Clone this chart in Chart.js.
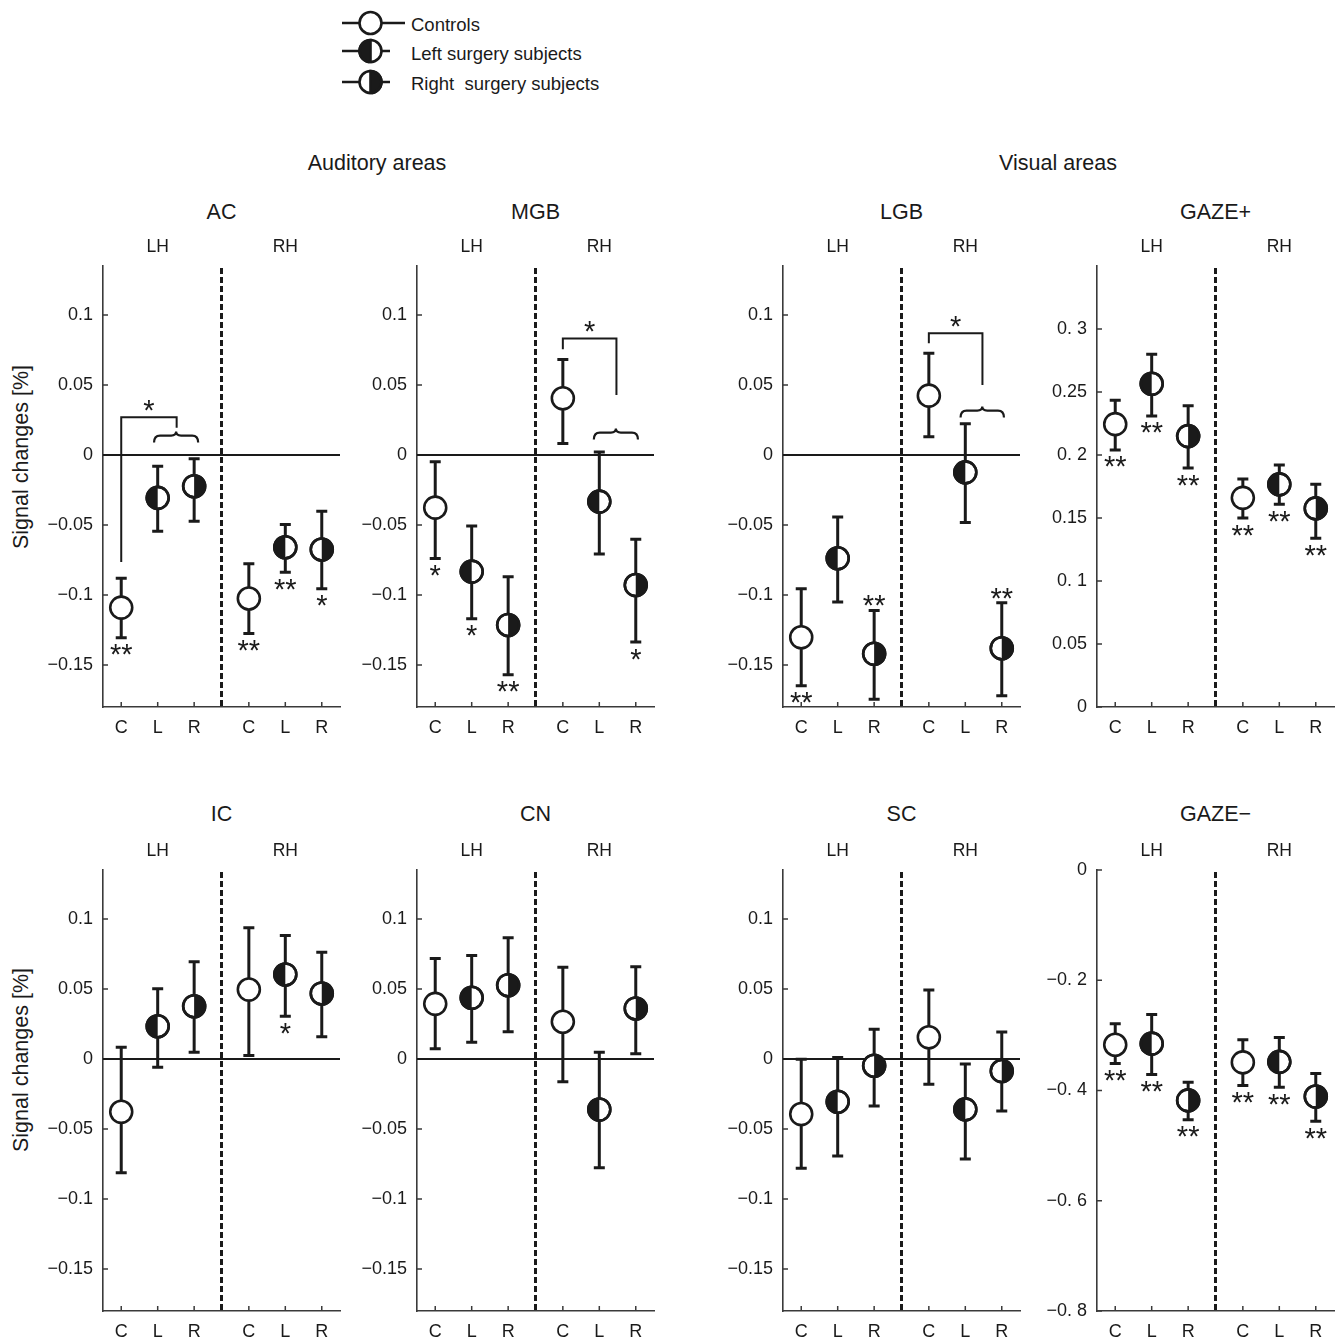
<!DOCTYPE html>
<html>
<head>
<meta charset="utf-8">
<script src="https://cdn.jsdelivr.net/npm/chart.js@4.4.1/dist/chart.umd.min.js"></script>
<style>
html, body { margin: 0; padding: 0; background: #fff; }
body { width: 1338px; height: 1339px; position: relative; overflow: hidden; font-family: "Liberation Sans", Arial, sans-serif; color: #1a1a1a; }
canvas { position: absolute; }
.t { position: absolute; transform: translate(-50%, -50%); white-space: nowrap; line-height: 1; }
.lg { position: absolute; transform: translateY(-50%); white-space: nowrap; line-height: 1; font-size: 18.5px; }
.yt { position: absolute; transform: translate(-50%, -50%) rotate(-90deg); white-space: nowrap; line-height: 1; font-size: 21.5px; }
</style>
</head>
<body>
<svg style="position:absolute;left:330px;top:0" width="80" height="100">
  <g stroke="#1a1a1a" stroke-width="2.6" fill="#fff">
    <line x1="12" y1="23" x2="75" y2="23"/>
    <circle cx="40.5" cy="23" r="11"/>
    <line x1="12" y1="51" x2="60" y2="51"/>
    <circle cx="40.5" cy="51" r="11"/>
    <path d="M40.5 40 A11 11 0 0 0 40.5 62 Z" fill="#1a1a1a"/>
    <line x1="12" y1="82" x2="60" y2="82"/>
    <circle cx="40.5" cy="82" r="11"/>
    <path d="M40.5 71 A11 11 0 0 1 40.5 93 Z" fill="#1a1a1a"/>
  </g>
</svg>
<div class="lg" style="left:411px;top:25px">Controls</div>
<div class="lg" style="left:411px;top:54px">Left surgery subjects</div>
<div class="lg" style="left:411px;top:84px">Right&nbsp; surgery subjects</div>
<div class="t" style="left:377px;top:164px;font-size:21.5px">Auditory areas</div>
<div class="t" style="left:1058px;top:164px;font-size:21.5px">Visual areas</div>
<div class="yt" style="left:22px;top:457px">Signal changes [%]</div>
<div class="yt" style="left:22px;top:1060px">Signal changes [%]</div>
<script>
const groups = ["C", "L", "R", "C", "L", "R"];
const kinds = ["ctrl", "left", "right", "ctrl", "left", "right"];
const xPos = [1, 2, 3, 4.5, 5.5, 6.5];
const divider = 3.75;

const sigRange = [-0.18, 0.135];
const sigTicks = [-0.15, -0.1, -0.05, 0, 0.05, 0.1];
const sigLabels = ["−0.15", "−0.1", "−0.05", "0", "0.05", "0.1"];
const gazePRange = [0, 0.35];
const gazePTicks = [0, 0.05, 0.1, 0.15, 0.2, 0.25, 0.3];
const gazePLabels = ["0", "0.05", "0. 1", "0.15", "0. 2", "0.25", "0. 3"];
const gazeNRange = [-0.8, 0];
const gazeNTicks = [-0.8, -0.6, -0.4, -0.2, 0];
const gazeNLabels = ["−0. 8", "−0. 6", "−0. 4", "−0. 2", "0"];

// AC
const acMean = [-0.109, -0.0306, -0.0223, -0.1025, -0.0659, -0.0675];
const acLow = [-0.1306, -0.0544, -0.0473, -0.1275, -0.0837, -0.0956];
const acHigh = [-0.088, -0.008, -0.0027, -0.0777, -0.0496, -0.0401];
const acStars = ["**", "", "", "**", "**", "*"];
const acBracket = [1, -0.0765, 0.027, 2.52, 0.0195];
const acBrace = [1.9, 3.11, 0.0139];
// MGB
const mgbMean = [-0.0376, -0.0833, -0.1214, 0.0405, -0.0333, -0.0929];
const mgbLow = [-0.074, -0.117, -0.157, 0.0083, -0.0707, -0.1336];
const mgbHigh = [-0.0048, -0.0507, -0.0869, 0.0683, 0.0021, -0.0602];
const mgbStars = ["*", "*", "**", "", "", "*"];
const mgbBracket = [4.5, 0.0755, 0.0833, 5.97, 0.0429];
const mgbBrace = [5.35, 6.56, 0.016];
// LGB
const lgbMean = [-0.1302, -0.0738, -0.142, 0.0424, -0.0124, -0.138];
const lgbLow = [-0.1648, -0.105, -0.1745, 0.0131, -0.0483, -0.172];
const lgbHigh = [-0.0955, -0.0443, -0.111, 0.0726, 0.0224, -0.1055];
const lgbStars = ["**", "", "**", "", "", "**"];
const lgbStarSide = ["below", "below", "above", "below", "below", "above"];
const lgbBracket = [4.5, 0.0798, 0.0869, 5.97, 0.05];
const lgbBrace = [5.37, 6.56, 0.0317];
// GAZE+
const gzpMean = [0.2245, 0.2565, 0.215, 0.166, 0.1767, 0.1576];
const gzpLow = [0.204, 0.231, 0.1896, 0.150, 0.161, 0.134];
const gzpHigh = [0.2435, 0.280, 0.239, 0.181, 0.192, 0.1767];
const gzpStars = ["**", "**", "**", "**", "**", "**"];
// IC
const icMean = [-0.0377, 0.0234, 0.0377, 0.0496, 0.0604, 0.0468];
const icLow = [-0.0813, -0.0059, 0.0049, 0.0025, 0.0306, 0.0159];
const icHigh = [0.0084, 0.0501, 0.0694, 0.0937, 0.0882, 0.0763];
const icStars = ["", "", "", "", "*", ""];
// CN
const cnMean = [0.0394, 0.0437, 0.0527, 0.0266, -0.0361, 0.0361];
const cnLow = [0.0073, 0.012, 0.0194, -0.0163, -0.0777, 0.0037];
const cnHigh = [0.0718, 0.0739, 0.0866, 0.0656, 0.0049, 0.0659];
// SC
const scMean = [-0.0393, -0.0305, -0.0048, 0.0155, -0.036, -0.0086];
const scLow = [-0.078, -0.0693, -0.0336, -0.018, -0.0714, -0.0371];
const scHigh = [-0.0002, 0.001, 0.0212, 0.0493, -0.0036, 0.0193];
// GAZE-
const gznMean = [-0.317, -0.315, -0.418, -0.349, -0.348, -0.411];
const gznLow = [-0.351, -0.371, -0.453, -0.391, -0.394, -0.456];
const gznHigh = [-0.279, -0.262, -0.385, -0.308, -0.304, -0.369];
const gznStars = ["**", "**", "**", "**", "**", "**"];

const ink = "#1a1a1a";
const axisInk = "#3a3a3a";
const plotW = 237, plotH = 441;
const padL = 100, padT = 24, padR = 20, padB = 40;
const markR = 11;
const starFont = "29px 'Liberation Sans', Arial, sans-serif";

const sig = { range: sigRange, ticks: sigTicks, labels: sigLabels };
const panels = [
  { title: "AC", x: 103, y: 266, mean: acMean, low: acLow, high: acHigh, stars: acStars, bracket: acBracket, brace: acBrace, ...sig },
  { title: "MGB", x: 417, y: 266, mean: mgbMean, low: mgbLow, high: mgbHigh, stars: mgbStars, bracket: mgbBracket, brace: mgbBrace, ...sig },
  { title: "LGB", x: 783, y: 266, mean: lgbMean, low: lgbLow, high: lgbHigh, stars: lgbStars, side: lgbStarSide, bracket: lgbBracket, brace: lgbBrace, ...sig },
  { title: "GAZE+", x: 1097, y: 266, mean: gzpMean, low: gzpLow, high: gzpHigh, stars: gzpStars, range: gazePRange, ticks: gazePTicks, labels: gazePLabels },
  { title: "IC", x: 103, y: 870, mean: icMean, low: icLow, high: icHigh, stars: icStars, ...sig },
  { title: "CN", x: 417, y: 870, mean: cnMean, low: cnLow, high: cnHigh, ...sig },
  { title: "SC", x: 783, y: 870, mean: scMean, low: scLow, high: scHigh, ...sig },
  { title: "GAZE−", x: 1097, y: 870, mean: gznMean, low: gznLow, high: gznHigh, stars: gznStars, range: gazeNRange, ticks: gazeNTicks, labels: gazeNLabels },
];

function addText(txt, x, y, size) {
  const d = document.createElement("div");
  d.className = "t";
  d.textContent = txt;
  d.style.left = x + "px";
  d.style.top = y + "px";
  d.style.fontSize = size + "px";
  document.body.appendChild(d);
}

function drawStar(ctx, s, x, edge, below) {
  ctx.font = starFont;
  ctx.textAlign = "center";
  ctx.textBaseline = "alphabetic";
  ctx.fillStyle = ink;
  const m = ctx.measureText(s);
  const base = below ? edge + 6.5 + m.actualBoundingBoxAscent : edge - 4 - m.actualBoundingBoxDescent;
  ctx.fillText(s, x, base);
}

function drawBrace(ctx, x1, x2, yf) {
  const xm = (x1 + x2) / 2;
  ctx.beginPath();
  ctx.moveTo(x1, yf + 7);
  ctx.quadraticCurveTo(x1, yf, x1 + 6, yf);
  ctx.lineTo(xm - 5, yf);
  ctx.quadraticCurveTo(xm, yf, xm, yf - 4);
  ctx.quadraticCurveTo(xm, yf, xm + 5, yf);
  ctx.lineTo(x2 - 6, yf);
  ctx.quadraticCurveTo(x2, yf, x2, yf + 7);
  ctx.stroke();
}

function marksPlugin(p) {
  return {
    id: "marks",
    beforeDatasetsDraw(chart) {
      const { ctx, chartArea: a, scales: { x, y } } = chart;
      ctx.save();
      // inner tick marks
      ctx.strokeStyle = axisInk;
      ctx.lineWidth = 1.5;
      ctx.beginPath();
      y.ticks.forEach((t) => {
        const py = y.getPixelForValue(t.value);
        ctx.moveTo(a.left, py);
        ctx.lineTo(a.left + 5, py);
      });
      x.ticks.forEach((t) => {
        const px = x.getPixelForValue(t.value);
        ctx.moveTo(px, a.bottom);
        ctx.lineTo(px, a.bottom - 5);
      });
      ctx.stroke();
      // zero line
      if (y.min < 0 && y.max > 0) {
        const py = y.getPixelForValue(0);
        ctx.strokeStyle = ink;
        ctx.lineWidth = 2;
        ctx.beginPath();
        ctx.moveTo(a.left, py);
        ctx.lineTo(a.right, py);
        ctx.stroke();
      }
      // hemisphere divider
      const dx = x.getPixelForValue(divider);
      ctx.strokeStyle = ink;
      ctx.lineWidth = 3;
      ctx.setLineDash([6, 3]);
      ctx.beginPath();
      ctx.moveTo(dx, a.top + 2);
      ctx.lineTo(dx, a.bottom);
      ctx.stroke();
      ctx.setLineDash([]);
      // error bars
      ctx.lineWidth = 3;
      ctx.beginPath();
      xPos.forEach((xv, i) => {
        const px = x.getPixelForValue(xv);
        const y1 = y.getPixelForValue(p.high[i]);
        const y2 = y.getPixelForValue(p.low[i]);
        ctx.moveTo(px, y1);
        ctx.lineTo(px, y2);
        ctx.moveTo(px - 5.5, y1);
        ctx.lineTo(px + 5.5, y1);
        ctx.moveTo(px - 5.5, y2);
        ctx.lineTo(px + 5.5, y2);
      });
      ctx.stroke();
      ctx.restore();
    },
    afterDatasetsDraw(chart) {
      const { ctx, scales: { x, y } } = chart;
      ctx.save();
      // half filled markers
      [1, 2].forEach((d) => {
        chart.getDatasetMeta(d).data.forEach((pt) => {
          ctx.beginPath();
          if (d === 1) ctx.arc(pt.x, pt.y, markR, Math.PI / 2, Math.PI * 1.5);
          else ctx.arc(pt.x, pt.y, markR, -Math.PI / 2, Math.PI / 2);
          ctx.closePath();
          ctx.fillStyle = ink;
          ctx.fill();
          ctx.beginPath();
          ctx.arc(pt.x, pt.y, markR, 0, Math.PI * 2);
          ctx.lineWidth = 2.6;
          ctx.strokeStyle = ink;
          ctx.stroke();
        });
      });
      // significance stars
      if (p.stars) {
        p.stars.forEach((s, i) => {
          if (!s) return;
          const below = !p.side || p.side[i] === "below";
          const edge = y.getPixelForValue(below ? p.low[i] : p.high[i]);
          drawStar(ctx, s, x.getPixelForValue(xPos[i]), edge, below);
        });
      }
      // group comparison bracket
      if (p.bracket) {
        const b = p.bracket;
        ctx.strokeStyle = ink;
        ctx.lineWidth = 2;
        ctx.beginPath();
        ctx.moveTo(x.getPixelForValue(b[0]), y.getPixelForValue(b[1]));
        ctx.lineTo(x.getPixelForValue(b[0]), y.getPixelForValue(b[2]));
        ctx.lineTo(x.getPixelForValue(b[3]), y.getPixelForValue(b[2]));
        ctx.lineTo(x.getPixelForValue(b[3]), y.getPixelForValue(b[4]));
        ctx.stroke();
        const mid = x.getPixelForValue((b[0] + b[3]) / 2);
        drawStar(ctx, "*", mid, y.getPixelForValue(b[2]) - 2.5, false);
      }
      if (p.brace) {
        ctx.strokeStyle = ink;
        ctx.lineWidth = 2.2;
        drawBrace(ctx, x.getPixelForValue(p.brace[0]), x.getPixelForValue(p.brace[1]), y.getPixelForValue(p.brace[2]));
      }
      ctx.restore();
    },
  };
}

Chart.defaults.font.family = "'Liberation Sans', Arial, sans-serif";
Chart.defaults.color = ink;

panels.forEach((p, n) => {
  const canvas = document.createElement("canvas");
  canvas.width = padL + plotW + padR;
  canvas.height = padT + plotH + padB;
  canvas.style.left = (p.x - padL) + "px";
  canvas.style.top = (p.y - padT) + "px";
  document.body.appendChild(canvas);

  const unit = plotW / 6.5;
  addText(p.title, p.x + (divider - 0.5) * unit, p.y - 53 - (n > 3 ? 2 : 0), 21.5);
  addText("LH", p.x + 1.5 * unit, p.y - 19, 17.5);
  addText("RH", p.x + 5 * unit, p.y - 19, 17.5);

  const datasets = ["ctrl", "left", "right"].map((k) => ({
    data: xPos.map((xv, i) => ({ x: xv, y: p.mean[i] })).filter((_, i) => kinds[i] === k),
    showLine: false,
    pointStyle: "circle",
    pointRadius: markR,
    pointBorderWidth: 2.6,
    pointBackgroundColor: "#fff",
    pointBorderColor: ink,
    clip: false,
  }));

  new Chart(canvas, {
    type: "scatter",
    data: { datasets },
    options: {
      responsive: false,
      animation: false,
      events: [],
      layout: { padding: { left: 0, top: padT, right: padR, bottom: 0 } },
      plugins: { legend: { display: false }, tooltip: { enabled: false } },
      scales: {
        x: {
          type: "linear",
          min: 0.5,
          max: 7,
          bounds: "data",
          afterBuildTicks: (s) => { s.ticks = xPos.map((v) => ({ value: v })); },
          afterFit: (s) => { s.height = padB; },
          ticks: { callback: (v, i) => groups[i], padding: 10, autoSkip: false, maxRotation: 0, color: ink, font: { size: 18 } },
          grid: { display: false, drawTicks: false },
          border: { display: true, color: axisInk, width: 1.6 },
        },
        y: {
          type: "linear",
          min: p.range[0],
          max: p.range[1],
          bounds: "data",
          afterBuildTicks: (s) => { s.ticks = p.ticks.map((v) => ({ value: v })); },
          afterFit: (s) => { s.width = padL; },
          ticks: { callback: (v, i) => p.labels[i], padding: 10, autoSkip: false, color: ink, font: { size: 18 } },
          grid: { display: false, drawTicks: false },
          border: { display: true, color: axisInk, width: 1.6 },
        },
      },
    },
    plugins: [marksPlugin(p)],
  });
});
</script>
</body>
</html>
